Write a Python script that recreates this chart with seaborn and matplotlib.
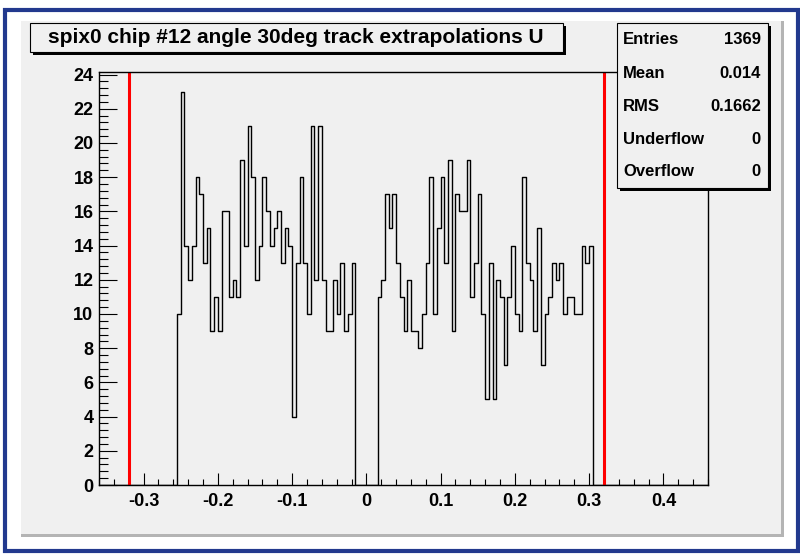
import numpy as np
import pandas as pd
import matplotlib
matplotlib.use('Agg')
import matplotlib.pyplot as plt
from matplotlib.patches import Rectangle
from matplotlib.ticker import MultipleLocator, FuncFormatter
import seaborn as sns

# binning: 0.005 wide bins, axis from -0.36 to 0.46
x_min, x_max, bin_width = -0.36, 0.46, 0.005

# filled bins, left block starts at -0.255, right block at 0.015
left_start = -0.255
left_counts = [10, 23, 14, 12, 14, 18, 17, 13, 15, 9, 11, 9, 16, 16, 11, 12, 11, 19, 14, 21,
               18, 12, 14, 18, 16, 14, 15, 16, 13, 15, 14, 4, 13, 18, 13, 10, 21, 12, 21, 12,
               9, 9, 12, 10, 13, 9, 10, 13]
right_start = 0.015
right_counts = [11, 12, 17, 15, 17, 13, 11, 9, 12, 9, 9, 8, 10, 13, 18, 10, 15, 18, 13, 19,
                9, 17, 16, 16, 19, 11, 13, 17, 10, 5, 13, 5, 12, 11, 7, 11, 14, 10, 9, 18,
                13, 12, 9, 15, 7, 10, 11, 13, 12, 13, 10, 11, 11, 10, 10, 14, 13, 14]

# cut lines
cut_positions = [-0.32, 0.32]

title = 'spix0 chip #12 angle 30deg track extrapolations U'
stat_labels = ['Entries', 'Mean', 'RMS', 'Underflow', 'Overflow']
stat_values = ['1369', '0.014', '0.1662', '0', '0']

# full histogram table
n_bins = int(round((x_max - x_min) / bin_width))
edges = x_min + bin_width * np.arange(n_bins + 1)
counts = np.zeros(n_bins)
i0 = int(round((left_start - x_min) / bin_width))
counts[i0:i0 + len(left_counts)] = left_counts
i1 = int(round((right_start - x_min) / bin_width))
counts[i1:i1 + len(right_counts)] = right_counts
df = pd.DataFrame({'u': (edges[:-1] + edges[1:]) / 2, 'n': counts})

sns.set_style('ticks')
plt.rcParams['font.family'] = ['Liberation Sans', 'DejaVu Sans']
plt.rcParams['axes.unicode_minus'] = False
plt.rcParams['text.color'] = 'black'
plt.rcParams['xtick.color'] = 'black'
plt.rcParams['ytick.color'] = 'black'

W, H = 800, 554
fig = plt.figure(figsize=(W / 100, H / 100), dpi=100, facecolor='white')
pad_col = '#f0f0f0'


def fx(x):
    return x / W


def fy(y):
    return 1 - y / H


# canvas frame and pad (pixel coordinates from the top left)
fig.patches.append(Rectangle((fx(5), fy(551)), fx(793), (551 - 10) / H, transform=fig.transFigure,
                             fill=False, edgecolor='#22398e', linewidth=3.0, zorder=-10))
fig.patches.append(Rectangle((fx(21), fy(537)), fx(763), (537 - 21) / H, transform=fig.transFigure,
                             facecolor='#b4b4b4', edgecolor='none', zorder=-10))
fig.patches.append(Rectangle((fx(21), fy(534)), fx(760), (534 - 21) / H, transform=fig.transFigure,
                             facecolor=pad_col, edgecolor='none', zorder=-9))

ax = fig.add_axes([fx(99), fy(485), fx(708 - 99), (485 - 72) / H])
ax.set_facecolor(pad_col)

sns.histplot(data=df, x='u', weights='n', binwidth=bin_width, binrange=(x_min, x_max),
             element='step', fill=False, color='black', linewidth=1.0, ax=ax)
for c in cut_positions:
    ax.axvline(c, color='#ff0000', linewidth=2.2)

ax.set_xlim(x_min, x_max)
ax.set_ylim(0, max(left_counts + right_counts) * 1.05)
ax.set_xlabel('')
ax.set_ylabel('')
for s in ax.spines.values():
    s.set_linewidth(1.0)
    s.set_color('black')

ax.xaxis.set_major_locator(MultipleLocator(0.1))
ax.xaxis.set_minor_locator(MultipleLocator(0.02))
ax.yaxis.set_major_locator(MultipleLocator(2))
ax.yaxis.set_minor_locator(MultipleLocator(0.4))
ax.xaxis.set_major_formatter(FuncFormatter(lambda v, p: '0' if abs(v) < 1e-9 else f'{round(v, 2):g}'))
ax.tick_params(which='both', direction='in', top=False, right=False, width=0.8, color='black')
ax.tick_params(axis='x', which='major', length=9, pad=6)
ax.tick_params(axis='x', which='minor', length=4.5)
ax.tick_params(axis='y', which='major', length=13, pad=4)
ax.tick_params(axis='y', which='minor', length=6.5)
for lab in ax.get_xticklabels() + ax.get_yticklabels():
    lab.set_fontweight('bold')
    lab.set_fontsize(13)

# title box with shadow
fig.patches.append(Rectangle((fx(33), fy(55)), fx(533), 29 / H, transform=fig.transFigure,
                             facecolor='black', edgecolor='none', zorder=5))
fig.patches.append(Rectangle((fx(30), fy(52)), fx(533), 29 / H, transform=fig.transFigure,
                             facecolor=pad_col, edgecolor='black', linewidth=0.8, zorder=6))
fig.text(fx(296), fy(37.5), title, ha='center', va='center', fontsize=15,
         fontweight='bold', zorder=7)

# stats box with shadow
fig.patches.append(Rectangle((fx(620), fy(191)), fx(151), 165 / H, transform=fig.transFigure,
                             facecolor='black', edgecolor='none', zorder=5))
fig.patches.append(Rectangle((fx(617), fy(188)), fx(151), 165 / H, transform=fig.transFigure,
                             facecolor=pad_col, edgecolor='black', linewidth=0.8, zorder=6))
for k, (lab, val) in enumerate(zip(stat_labels, stat_values)):
    y = 40 + k * 33
    fig.text(fx(623), fy(y), lab, ha='left', va='center', fontsize=12, fontweight='bold', zorder=7)
    fig.text(fx(761), fy(y), val, ha='right', va='center', fontsize=12, fontweight='bold', zorder=7)

fig.savefig('out.png', dpi=100, facecolor='white')
